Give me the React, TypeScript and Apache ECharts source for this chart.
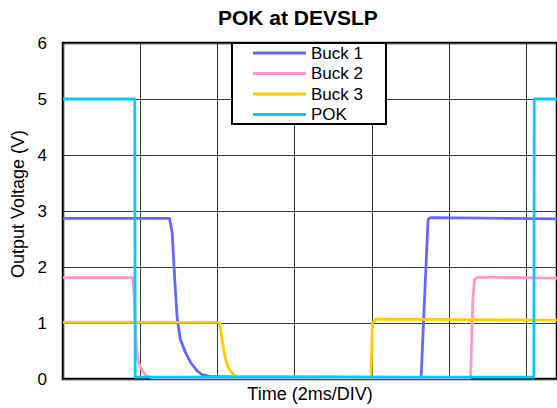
import React, { useEffect, useRef } from "react";
import * as echarts from "echarts";

const seriesNames = ["Buck 1", "Buck 2", "Buck 3", "POK"];
const seriesColors = ["#6666FF", "#FF99CC", "#FFCC00", "#00CCFF"];

// [time (ms), voltage (V)]
const buck1: number[][] = [
  [0, 2.87], [2.76, 2.87], [2.83, 2.61], [2.9, 1.72], [2.96, 1.07], [3.04, 0.71],
  [3.17, 0.48], [3.3, 0.3], [3.47, 0.15], [3.6, 0.08], [3.85, 0.04], [9.28, 0.03],
  [9.34, 1.01], [9.46, 2.85], [9.51, 2.88], [12.8, 2.86],
];
const buck2: number[][] = [
  [0, 1.81], [1.81, 1.81], [1.85, 1.42], [1.89, 0.71], [1.93, 0.36], [2.02, 0.18],
  [2.15, 0.06], [2.32, 0.02], [10.56, 0.02], [10.62, 1.42], [10.66, 1.78],
  [10.75, 1.82], [12.8, 1.8],
];
const buck3: number[][] = [
  [0, 1.01], [4.06, 1.01], [4.12, 0.71], [4.19, 0.42], [4.28, 0.21], [4.4, 0.09],
  [4.53, 0.05], [7.98, 0.03], [8.02, 1.0], [8.11, 1.07], [12.8, 1.05],
];
const pok: number[][] = [
  [0, 5.0], [1.86, 5.0], [1.87, 0.035], [12.2, 0.035], [12.21, 5.0], [12.8, 5.0],
];
const seriesData = [buck1, buck2, buck3, pok];

const yTicks = [0, 1, 2, 3, 4, 5, 6];
const xMax = 12.8;
const xInterval = 2;

const FONT = "'Liberation Sans', Arial, sans-serif";

export default function App() {
  const ref = useRef<HTMLDivElement>(null);
  useEffect(() => {
    if (!ref.current) return;
    const chart = echarts.init(ref.current, null, { renderer: "svg" });
    chart.setOption({
      animation: false,
      backgroundColor: "#ffffff",
      textStyle: { fontFamily: FONT },
      title: {
        text: "POK at DEVSLP",
        left: 218,
        top: 7,
        padding: 0,
        textStyle: { fontSize: 21, fontWeight: "bold", color: "#000", fontFamily: FONT },
      },
      legend: {
        data: seriesNames,
        orient: "vertical",
        left: 232,
        top: 43,
        icon: "rect",
        itemWidth: 53,
        itemHeight: 3,
        itemGap: 3.5,
        padding: [1.5, 23, 1, 21],
        backgroundColor: "#ffffff",
        borderColor: "#000",
        borderWidth: 2,
        textStyle: { fontSize: 17, lineHeight: 17, color: "#000", fontFamily: FONT },
      },
      grid: {
        left: 63,
        top: 43,
        width: 501,
        height: 337,
        show: true,
        borderColor: "#000",
        borderWidth: 2.5,
        backgroundColor: "transparent",
        containLabel: false,
      },
      xAxis: {
        type: "value",
        min: 0,
        max: xMax,
        interval: xInterval,
        name: "Time (2ms/DIV)",
        nameLocation: "middle",
        nameGap: 6,
        nameTextStyle: { fontSize: 18, color: "#000", fontFamily: FONT, verticalAlign: "top" },
        axisLine: { show: false },
        axisTick: { show: false },
        axisLabel: { show: false },
        splitLine: { show: true, lineStyle: { color: "#3a3a3a", width: 1 } },
      },
      yAxis: {
        type: "value",
        min: yTicks[0],
        max: yTicks[yTicks.length - 1],
        interval: 1,
        name: "Output Voltage (V)",
        nameLocation: "middle",
        nameGap: 34,
        nameTextStyle: { fontSize: 18, color: "#000", fontFamily: FONT, padding: [0, 0, 0, 14] },
        axisLine: { show: false },
        axisTick: { show: false },
        axisLabel: { fontSize: 17, color: "#000", margin: 16, fontFamily: FONT },
        splitLine: { show: true, lineStyle: { color: "#3a3a3a", width: 1 } },
      },
      series: seriesNames.map((name, i) => ({
        name,
        type: "line",
        data: seriesData[i],
        showSymbol: false,
        symbol: "none",
        color: seriesColors[i],
        lineStyle: { color: seriesColors[i], width: 2.8 },
        z: 2 + i,
      })),
    });
    return () => chart.dispose();
  }, []);
  return (
    <div
      ref={ref}
      style={{ position: "absolute", left: 0, top: 0, width: 557, height: 408 }}
    />
  );
}
